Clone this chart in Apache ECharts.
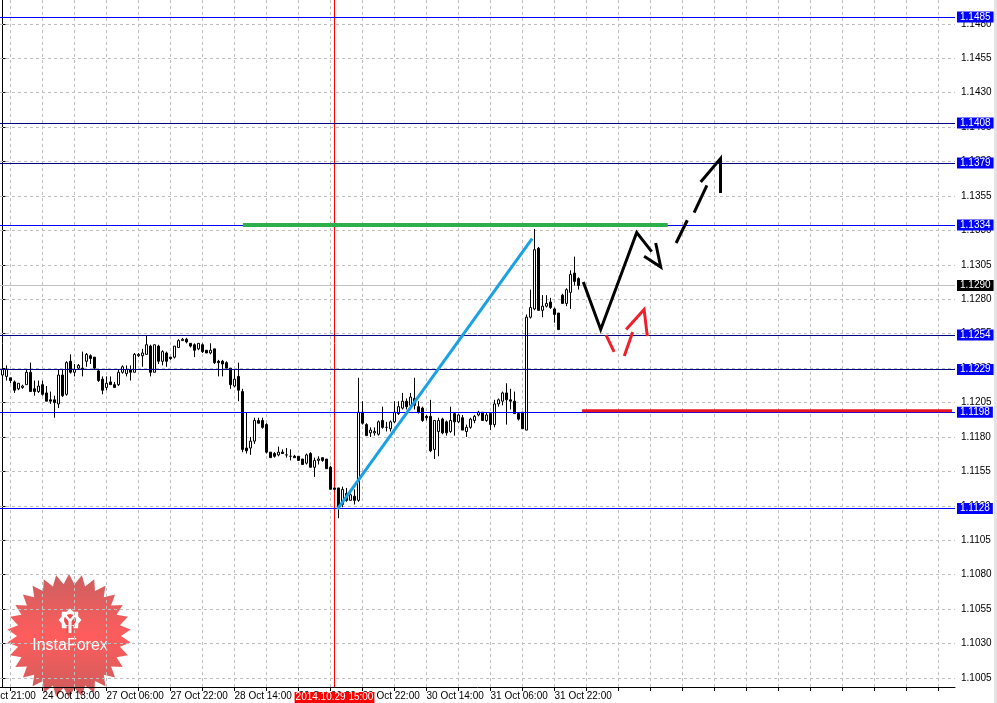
<!DOCTYPE html>
<html><head><meta charset="utf-8">
<script src="https://cdn.jsdelivr.net/npm/echarts@6/dist/echarts.min.js"></script>
<style>html,body{margin:0;padding:0;background:#fff}#c{width:997px;height:703px}</style>
</head><body><div id="c"></div>
<script>
const FONT = '"Liberation Sans", Arial, sans-serif';

// EURUSD H1 candles, index = bar number from the left edge: [open, close, low, high]
const candles = [
[1.1225,1.1229,1.1221,1.1232],[1.1224,1.1229,1.1221,1.1232],[1.1223,1.1221,1.1219,1.1223],[1.1220,1.1214,1.1212,1.1221],
[1.1215,1.1219,1.1214,1.1219],[1.1216,1.1217,1.1215,1.1218],[1.1218,1.1227,1.1218,1.1229],[1.1227,1.1213,1.1213,1.1234],
[1.1215,1.1213,1.1210,1.1221],[1.1213,1.1217,1.1212,1.1221],[1.1218,1.1211,1.1210,1.1221],[1.1212,1.1206,1.1206,1.1217],
[1.1207,1.1206,1.1204,1.1213],[1.1207,1.1205,1.1194,1.1210],[1.1204,1.1225,1.1201,1.1229],[1.1225,1.1210,1.1209,1.1229],
[1.1211,1.1234,1.1210,1.1235],[1.1235,1.1227,1.1226,1.1240],[1.1227,1.1229,1.1224,1.1233],[1.1230,1.1232,1.1229,1.1233],
[1.1230,1.1229,1.1224,1.1242],[1.1235,1.1240,1.1231,1.1241],[1.1239,1.1237,1.1233,1.1240],[1.1238,1.1230,1.1229,1.1238],
[1.1228,1.1221,1.1220,1.1229],[1.1222,1.1214,1.1211,1.1224],[1.1216,1.1219,1.1214,1.1224],[1.1220,1.1218,1.1218,1.1224],
[1.1218,1.1216,1.1216,1.1220],[1.1218,1.1227,1.1217,1.1229],[1.1227,1.1231,1.1226,1.1232],[1.1226,1.1229,1.1224,1.1232],
[1.1229,1.1227,1.1221,1.1232],[1.1227,1.1240,1.1227,1.1241],[1.1239,1.1240,1.1238,1.1241],[1.1239,1.1241,1.1231,1.1244],
[1.1240,1.1247,1.1240,1.1254],[1.1246,1.1227,1.1224,1.1247],[1.1227,1.1247,1.1227,1.1247],[1.1246,1.1235,1.1233,1.1247],
[1.1235,1.1242,1.1232,1.1243],[1.1241,1.1235,1.1231,1.1242],[1.1238,1.1237,1.1236,1.1238],[1.1238,1.1246,1.1237,1.1246],
[1.1245,1.1250,1.1245,1.1251],[1.1250,1.1251,1.1250,1.1252],[1.1251,1.1249,1.1248,1.1252],[1.1248,1.1246,1.1245,1.1248],
[1.1247,1.1243,1.1238,1.1248],[1.1244,1.1248,1.1243,1.1248],[1.1247,1.1242,1.1241,1.1248],[1.1243,1.1241,1.1241,1.1243],
[1.1241,1.1243,1.1240,1.1248],[1.1244,1.1234,1.1233,1.1244],[1.1235,1.1234,1.1224,1.1236],[1.1235,1.1233,1.1224,1.1236],
[1.1234,1.1230,1.1230,1.1235],[1.1230,1.1218,1.1215,1.1230],[1.1217,1.1222,1.1216,1.1229],[1.1224,1.1214,1.1206,1.1234],
[1.1213,1.1171,1.1169,1.1215],[1.1172,1.1170,1.1168,1.1198],[1.1172,1.1177,1.1167,1.1180],[1.1177,1.1192,1.1175,1.1194],
[1.1192,1.1190,1.1190,1.1194],[1.1192,1.1187,1.1186,1.1194],[1.1189,1.1169,1.1168,1.1190],[1.1169,1.1165,1.1165,1.1169],
[1.1168,1.1166,1.1165,1.1169],[1.1167,1.1169,1.1166,1.1173],[1.1169,1.1168,1.1168,1.1171],[1.1167,1.1167,1.1165,1.1172],
[1.1166,1.1166,1.1163,1.1171],[1.1166,1.1165,1.1165,1.1167],[1.1166,1.1163,1.1163,1.1166],[1.1164,1.1160,1.1160,1.1164],
[1.1161,1.1167,1.1160,1.1168],[1.1168,1.1158,1.1158,1.1169],[1.1158,1.1163,1.1151,1.1165],[1.1163,1.1164,1.1160,1.1166],
[1.1165,1.1163,1.1162,1.1165],[1.1164,1.1157,1.1157,1.1164],[1.1158,1.1142,1.1142,1.1159],[1.1143,1.1142,1.1142,1.1143],
[1.1143,1.1129,1.1121,1.1143],[1.1131,1.1142,1.1129,1.1144],[1.1139,1.1134,1.1133,1.1143],[1.1134,1.1138,1.1134,1.1139],
[1.1137,1.1134,1.1131,1.1142],[1.1134,1.1198,1.1133,1.1223],[1.1198,1.1190,1.1189,1.1206],[1.1189,1.1181,1.1181,1.1190],
[1.1183,1.1185,1.1180,1.1187],[1.1183,1.1184,1.1181,1.1187],[1.1182,1.1191,1.1181,1.1192],[1.1192,1.1187,1.1186,1.1202],
[1.1187,1.1187,1.1184,1.1191],[1.1186,1.1191,1.1184,1.1192],[1.1191,1.1198,1.1190,1.1206],[1.1197,1.1202,1.1196,1.1206],
[1.1201,1.1206,1.1200,1.1212],[1.1206,1.1202,1.1200,1.1208],[1.1203,1.1209,1.1200,1.1212],[1.1208,1.1203,1.1200,1.1223],
[1.1202,1.1198,1.1197,1.1206],[1.1201,1.1192,1.1191,1.1202],[1.1195,1.1194,1.1192,1.1196],[1.1195,1.1170,1.1169,1.1207],
[1.1171,1.1192,1.1164,1.1192],[1.1184,1.1192,1.1166,1.1194],[1.1193,1.1183,1.1182,1.1194],[1.1191,1.1183,1.1181,1.1192],
[1.1184,1.1192,1.1183,1.1202],[1.1197,1.1191,1.1181,1.1198],[1.1191,1.1196,1.1190,1.1197],[1.1194,1.1185,1.1185,1.1196],
[1.1184,1.1187,1.1180,1.1189],[1.1187,1.1193,1.1186,1.1194],[1.1192,1.1195,1.1190,1.1196],[1.1196,1.1198,1.1195,1.1199],
[1.1198,1.1192,1.1192,1.1198],[1.1192,1.1196,1.1191,1.1198],[1.1197,1.1189,1.1185,1.1198],[1.1189,1.1204,1.1187,1.1207],
[1.1204,1.1207,1.1202,1.1208],[1.1206,1.1212,1.1203,1.1213],[1.1212,1.1207,1.1189,1.1219],[1.1207,1.1206,1.1200,1.1215],
[1.1206,1.1197,1.1197,1.1213],[1.1197,1.1193,1.1192,1.1198],[1.1198,1.1186,1.1186,1.1198],[1.1185,1.1267,1.1185,1.1269],
[1.1267,1.1274,1.1266,1.1287],[1.1273,1.1316,1.1272,1.1331],[1.1317,1.1272,1.1272,1.1318],[1.1272,1.1275,1.1267,1.1283],
[1.1275,1.1277,1.1274,1.1283],[1.1278,1.1274,1.1273,1.1281],[1.1273,1.1269,1.1263,1.1274],[1.1270,1.1258,1.1258,1.1270],
[1.1283,1.1277,1.1277,1.1284],[1.1277,1.1287,1.1275,1.1288],[1.1285,1.1298,1.1273,1.1301],[1.1299,1.1293,1.1290,1.1311],
[1.1295,1.1290,1.1287,1.1296]
];

// time axis labels: [bar index, text]
const timeLabels = [[10,'24 Oct 13:00'],[26,'27 Oct 06:00'],[42,'27 Oct 22:00'],[58,'28 Oct 14:00'],[74,'29 Oct 06:00'],
  [90,'29 Oct 22:00'],[106,'30 Oct 14:00'],[122,'31 Oct 06:00'],[138,'31 Oct 22:00']];
const cutLabel = [-6,'23 Oct 21:00'];
const markedBar = 83, markedBarText = '2014.10.29 15:00';

// price axis ticks
const priceTicks = [1.1005,1.1030,1.1055,1.1080,1.1105,1.1130,1.1155,1.1180,1.1205,1.1230,
  1.1255,1.1280,1.1305,1.1330,1.1355,1.1380,1.1405,1.1430,1.1455,1.1480];

// horizontal level lines
const blueLevels = [1.1485,1.1334,1.1198,1.1128];
const darkLevels = [1.1408,1.1379,1.1254,1.1229];
const bidPrice = 1.1290;

// drawn objects, in [bar index, price]
const trendLine = [[83.75,1.11277],[132.4,1.13240]];
const resistanceSeg = [[60.1,1.1334],[166.3,1.1334]];
const supportSeg = [[144.9,1.1199],[237.4,1.1199]];
const forecastPath = [[145.2,1.12926],[149.55,1.12581],[158.55,1.13285],[162.3,1.13146]];
const forecastHead = [[160.4,1.13113],[164.55,1.13035],[163.3,1.13209]];
const upDashes = [[[168.4,1.13209],[171.2,1.13374]],[[172.9,1.13430],[176.1,1.13628]]];
const upHead = [[174.55,1.13652],[179.5,1.13822],[179.5,1.13572]];
const redDashes = [[[150.9,1.12540],[152.9,1.12418]],[[155.45,1.12389],[157.55,1.12563]]];
const redHead = [[155.9,1.12581],[160.4,1.12726],[161.2,1.12532]];

const Y_MIN = 1.099846, Y_MAX = 1.149733;
const X_MIN = -0.625, X_MAX = 238.125;
const BLUE = '#0000ff', DARK = '#000080';

const tickBars = [];
for (let v = 2; v <= X_MAX; v += 8) tickBars.push(v);
const labelMap = {};
timeLabels.forEach(d => labelMap[d[0]] = d[1]);

const chart = echarts.init(document.getElementById('c'), null, {renderer: 'canvas'});

function boxLabel(text, bg, pos) {
  return {show: true, position: pos || 'end', distance: pos === 'start' ? 5 : 2, formatter: text, color: '#fff',
    backgroundColor: bg, padding: pos === 'start' ? [0, 1] : [0, 3], lineHeight: 11, fontSize: 10, fontFamily: FONT};
}
function levelItem(v, lineColor) {
  return {yAxis: v, lineStyle: {color: lineColor, width: 1, type: 'solid'}, label: boxLabel(v.toFixed(4), BLUE)};
}

function starPoints(cx, cy, R, r, n) {
  const pts = [];
  for (let k = 0; k < 2 * n; k++) {
    const a = Math.PI * k / n - Math.PI / 2;
    const rad = k % 2 ? r : R;
    pts.push([cx + rad * Math.cos(a), cy + rad * Math.sin(a)]);
  }
  return pts;
}

const option = {
  animation: false,
  backgroundColor: '#ffffff',
  grid: {left: 0, right: 42, top: 0, bottom: 16, containLabel: false},
  xAxis: {
    type: 'value', min: X_MIN, max: X_MAX, position: 'bottom',
    splitLine: {show: false},
    axisLine: {show: true, lineStyle: {color: '#000', width: 1}},
    axisTick: {show: true, customValues: tickBars, length: 4, lineStyle: {color: '#000'}},
    axisLabel: {customValues: timeLabels.map(d => d[0]), formatter: v => labelMap[v] || '',
      align: 'left', margin: 4, color: '#000', fontSize: 10, fontFamily: FONT}
  },
  yAxis: {
    type: 'value', position: 'right', min: Y_MIN, max: Y_MAX, scale: true,
    splitLine: {show: false},
    axisLine: {show: true, lineStyle: {color: '#000', width: 1}},
    axisTick: {show: true, customValues: priceTicks, length: 3, lineStyle: {color: '#000'}},
    axisLabel: {customValues: priceTicks, formatter: v => v.toFixed(4), margin: 6,
      color: '#000', fontSize: 10, fontFamily: FONT}
  },
  series: [
    {
      type: 'line', name: 'grid', data: [[X_MIN, bidPrice]], showSymbol: false, z: 1, silent: true,
      lineStyle: {width: 0},
      markLine: {
        silent: true, symbol: 'none', animation: false, precision: 6, z: 1, label: {show: false},
        data: [
          ...tickBars.map(v => ({xAxis: v, lineStyle: {color: '#c0c0c0', width: 1, type: [3, 3]}})),
          ...priceTicks.map(v => ({yAxis: v, lineStyle: {color: '#c0c0c0', width: 1, type: [3, 3]}})),
          {yAxis: bidPrice, lineStyle: {color: '#c0c0c0', width: 1, type: 'solid'}, label: boxLabel(bidPrice.toFixed(4), '#000')},
          {xAxis: markedBar, lineStyle: {color: '#ff0000', width: 1, type: 'solid'}, label: boxLabel(markedBarText, '#ff0000', 'start')}
        ]
      }
    },
    {
      type: 'candlestick', name: 'EURUSD', z: 2,
      data: candles.map((c, i) => [i, c[0], c[1], c[2], c[3]]),
      encode: {x: 0, y: [1, 2, 3, 4]},
      barWidth: 2,
      itemStyle: {color: '#ffffff', color0: '#000000', borderColor: '#000000', borderColor0: '#000000', borderWidth: 1}
    },
    {
      type: 'line', name: 'levels', data: [[X_MIN, bidPrice]], showSymbol: false, z: 3, silent: true,
      lineStyle: {width: 0},
      markLine: {
        silent: true, symbol: 'none', animation: false, precision: 6, z: 3,
        data: [
          ...darkLevels.map(v => levelItem(v, DARK)),
          ...blueLevels.map(v => levelItem(v, BLUE))
        ]
      }
    },
    {type: 'lines', coordinateSystem: 'cartesian2d', polyline: true, z: 5, silent: true,
      data: [{coords: trendLine}], lineStyle: {color: '#1aa0e4', width: 3, opacity: 1}},
    {type: 'lines', coordinateSystem: 'cartesian2d', polyline: true, z: 5, silent: true,
      data: [{coords: resistanceSeg}], lineStyle: {color: '#2db04b', width: 4, opacity: 1}},
    {type: 'lines', coordinateSystem: 'cartesian2d', polyline: true, z: 5, silent: true,
      data: [{coords: supportSeg}], lineStyle: {color: '#e8141e', width: 3, opacity: 1}},
    {type: 'lines', coordinateSystem: 'cartesian2d', polyline: true, z: 6, silent: true,
      data: [{coords: forecastPath}, {coords: forecastHead}, ...upDashes.map(s => ({coords: s})), {coords: upHead}],
      lineStyle: {color: '#000000', width: 3, opacity: 1}},
    {type: 'lines', coordinateSystem: 'cartesian2d', polyline: true, z: 6, silent: true,
      data: [...redDashes.map(s => ({coords: s})), {coords: redHead}],
      lineStyle: {color: '#f0202a', width: 3, opacity: 1}}
  ],
  graphic: [
    {type: 'rect', id: 'edge', shape: {x: 994, y: 0, width: 3, height: 703}, style: {fill: '#e4e4e4'}, z: 50, silent: true},
    {type: 'group', id: 'logo', z: 100, silent: true, children: [
      {type: 'polygon', shape: {points: starPoints(69, 636, 62, 52, 30)},
        style: {fill: new echarts.graphic.LinearGradient(0, 0, 0, 1, [
          {offset: 0, color: '#c44a4a'}, {offset: 0.5, color: '#ff4646'}, {offset: 1, color: '#c44646'}]), opacity: 0.88}},
      {type: 'polygon', shape: {points: starPoints(70, 620, 11.5, 9, 8)}, style: {fill: '#ffffff'}},
      {type: 'circle', shape: {cx: 70, cy: 620, r: 6}, style: {fill: '#f04a4a'}},
      {type: 'rect', shape: {x: 66.5, y: 626, width: 7, height: 7}, style: {fill: '#f04a4a'}},
      {type: 'polyline', shape: {points: [[65.5, 615.5], [70, 621], [74.5, 615.5]]}, style: {stroke: '#fff', lineWidth: 2.5, fill: null}},
      {type: 'line', shape: {x1: 70, y1: 620, x2: 70, y2: 633}, style: {stroke: '#fff', lineWidth: 3}},
      {type: 'text', x: 70, y: 646, style: {text: 'InstaForex', fill: '#ffffff', font: '16px "Liberation Sans", Arial, sans-serif',
        align: 'center', verticalAlign: 'middle', textAlign: 'center', textVerticalAlign: 'middle'}}
    ]}
  ]
};

chart.setOption(option);

const cutX = chart.convertToPixel({xAxisIndex: 0}, cutLabel[0]);
const axisY = chart.convertToPixel({yAxisIndex: 0}, Y_MIN);
chart.setOption({graphic: [{type: 'text', id: 'cutLabel', x: cutX, y: axisY + 4, z: 10, silent: true,
  style: {text: cutLabel[1], fill: '#000', font: '10px "Liberation Sans", Arial, sans-serif',
    align: 'left', verticalAlign: 'top', textAlign: 'left', textVerticalAlign: 'top'}}]});
</script>
</body></html>
